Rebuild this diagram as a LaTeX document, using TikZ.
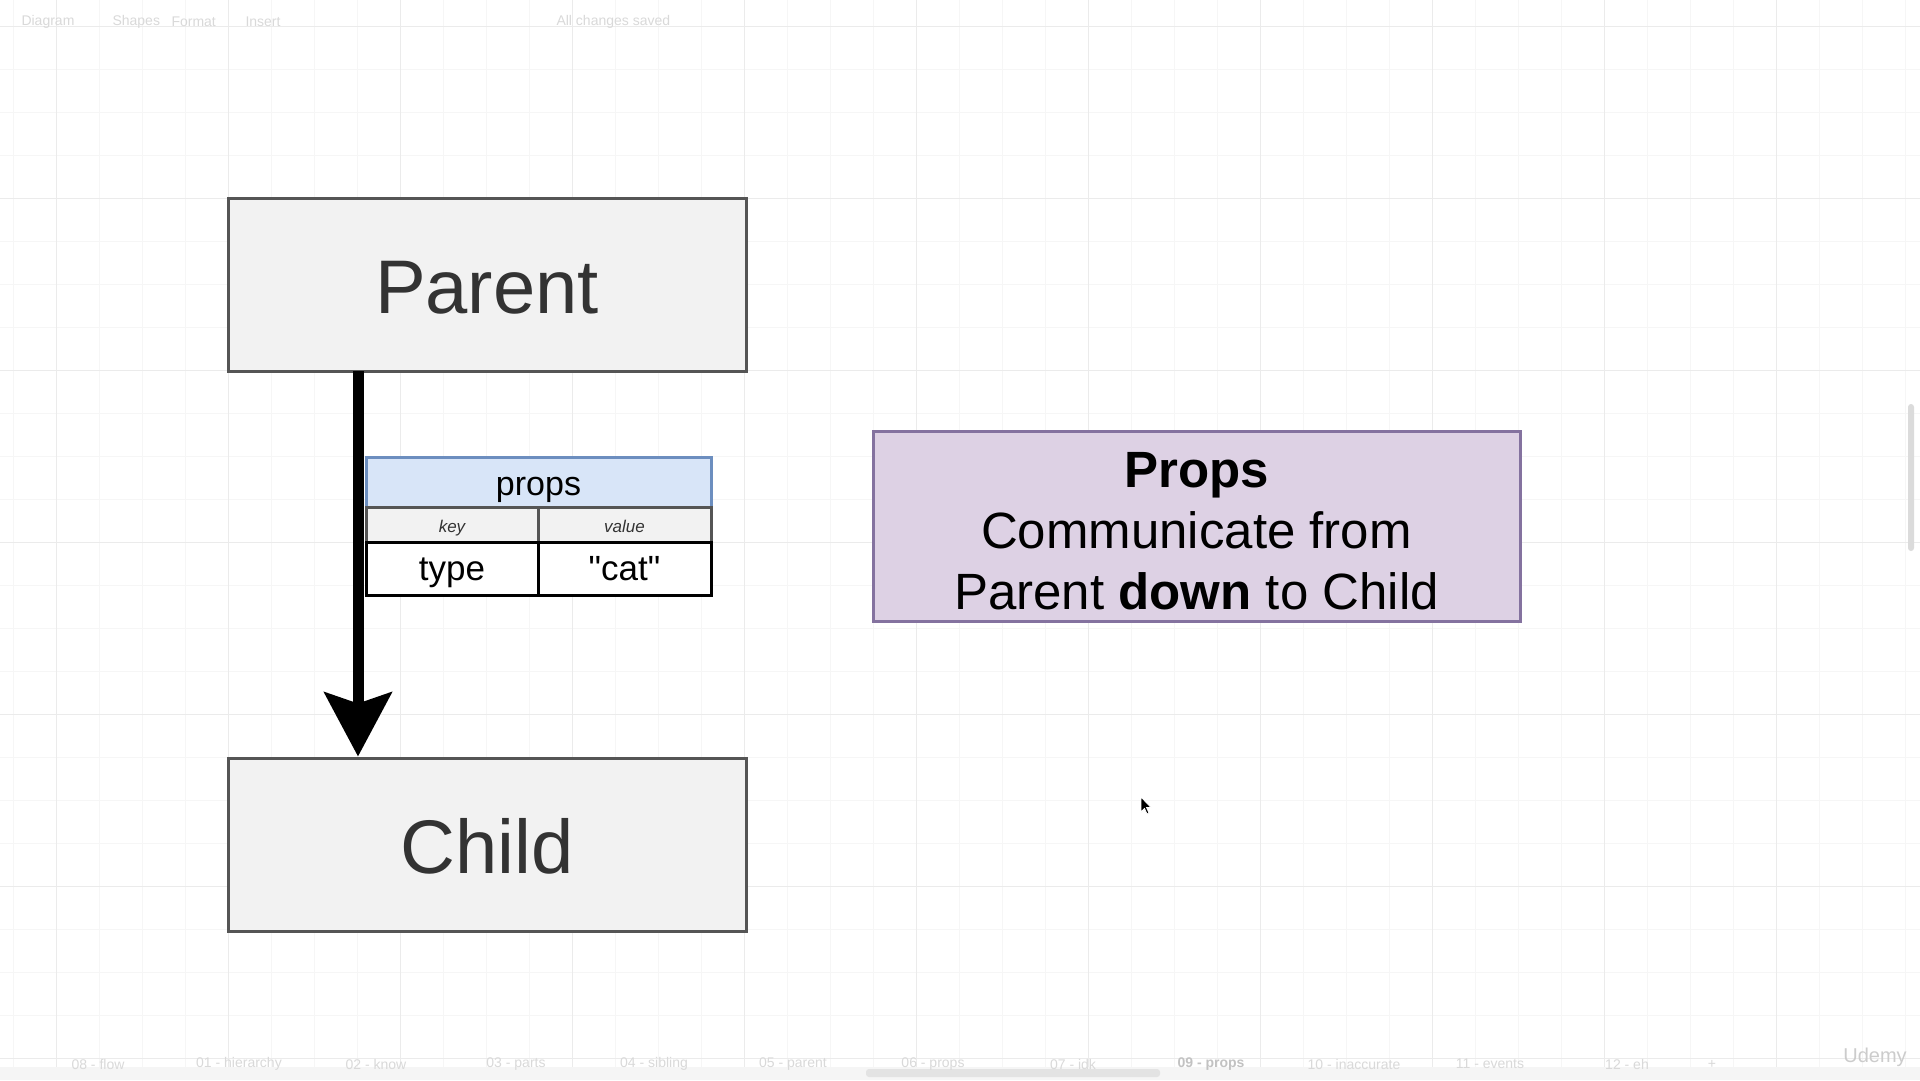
\documentclass[tikz,border=0pt]{standalone}
\usepackage{fontspec}
\setmainfont{Liberation Sans}
\newfontfamily\plainsans{Liberation Sans}
\usetikzlibrary{arrows.meta,positioning}
\definecolor{boxfill}{HTML}{F2F2F2}
\definecolor{boxline}{HTML}{555555}
\definecolor{txtdark}{HTML}{333333}
\definecolor{hdrfill}{HTML}{D8E5F8}
\definecolor{hdrline}{HTML}{6C8EBF}
\definecolor{notefill}{HTML}{DDD1E4}
\definecolor{noteline}{HTML}{84729F}
\definecolor{gridmajor}{HTML}{EBEBEB}
\definecolor{gridminor}{HTML}{F6F6F6}
\definecolor{uitext}{HTML}{D9D9D9}
\newcommand{\setfs}[2]{\fontsize{#1}{#2}\selectfont}

\begin{document}
\begin{tikzpicture}[x=1pt,y=-1pt,
    comp/.style={draw=boxline,fill=boxfill,line width=3pt,outer sep=0pt,minimum width=518pt,minimum height=173pt,text=txtdark,font=\setfs{76}{76},text height=58pt,text depth=0pt},
    cell/.style={line width=3pt,outer sep=0pt,inner sep=0pt,anchor=north west,text depth=0pt},
    ui/.style={text=uitext,font=\setfs{14}{14}}]
    \def\shaftx{130}
    \useasboundingbox[fill=white] (0,0) rectangle (1920,1080);

    \foreach \i in {0,...,44} \draw[gridminor] ({13+43*\i},0) -- ({13+43*\i},1080);
    \foreach \j in {0,...,24} \draw[gridminor] (0,{26+43*\j}) -- (1920,{26+43*\j});
    \foreach \i in {0,...,10} \draw[gridmajor] ({56+172*\i},0) -- ({56+172*\i},1080);
    \foreach \j in {0,...,6} \draw[gridmajor] (0,{26+172*\j}) -- (1920,{26+172*\j});

    \node[ui,anchor=west] (tbdiagram) at (18,22) {Diagram};
    \node[ui,anchor=west] (tbshapes) at (109,22) {Shapes};
    \node[ui,anchor=west] (tbformat) at (168,22) {Format};
    \node[ui,anchor=west] (tbinsert) at (242,22) {Insert};
    \node[ui,anchor=west] (tbsaved) at (553,22) {All changes saved};

    \fill[white!96!black] (0,1067) rectangle (1920,1080);
    \fill[white!89!black,rounded corners=3pt] (866,1069) rectangle (1160,1077);
    \fill[white!86!black,rounded corners=3pt] (1908,404) rectangle (1914,551);
    \foreach \x/\t [count=\k] in {98/08 - flow,239/01 - hierarchy,376/02 - know,516/03 - parts,654/04 - sibling,793/05 - parent,933/06 - props,1073/07 - idk,1354/10 - inaccurate,1490/11 - events,1627/12 - eh,1712/+}
      \node[ui] (tab\k) at (\x,1064) {\t};
    \node[ui,text=white!76!black,font=\setfs{14}{14}\bfseries] (tabcur) at (1211,1064) {09 - props};
    \node[ui,text=white!80!black,font=\setfs{20}{20}] (udemy) at (1875,1057) {Udemy};

    \node[comp] (parent) at (487,284.5) {Parent};
    \node[comp] (child) at (487,844.5) {Child};

    \coordinate (shaft1) at ([xshift=\shaftx pt]parent.south west);
    \coordinate (shaft2) at ([shift={(\shaftx,-1.5)}]child.north west);
    \draw[line width=11pt,-{Stealth[length=64pt,width=67pt,inset=11pt]}] (shaft1) -- (shaft2);

    \node[cell,draw=hdrline,fill=hdrfill,minimum width=345pt,minimum height=50pt,text height=26pt,font=\setfs{34}{34}] (props) at (366,457) {props};
    \node[cell,draw=boxline,fill=boxfill,minimum width=172pt,minimum height=35pt,text height=16pt,text=txtdark,font=\setfs{17}{17}\itshape] (key) at (props.south west) {key};
    \node[cell,draw=boxline,fill=boxfill,minimum width=173pt,minimum height=35pt,text height=16pt,text=txtdark,font=\setfs{17}{17}\itshape] (value) at (key.north east) {value};
    \node[cell,draw=black,fill=white,minimum width=172pt,minimum height=53pt,text height=24pt,font=\setfs{35}{35}] (type) at (key.south west) {type};
    \node[cell,draw=black,fill=white,minimum width=173pt,minimum height=53pt,text height=24pt,font=\plainsans\setfs{35}{35}] (cat) at (type.north east) {"cat"};

    \node[draw=noteline,fill=notefill,line width=3pt,minimum width=647pt,minimum height=190pt,align=center,font=\setfs{51}{61}] (note) at (1196.5,526)
      {\rule{0pt}{45pt}\textbf{Props}\\Communicate from\\Parent \textbf{down} to Child};

    \filldraw[fill=black,draw=white,line width=0.8pt] (1141,797) -- ++(0,15) -- ++(3.5,-3.5) -- ++(2.5,5.5) -- ++(2,-1) -- ++(-2.5,-5.5) -- ++(4.5,0) -- cycle;

  \end{tikzpicture}
\end{document}
